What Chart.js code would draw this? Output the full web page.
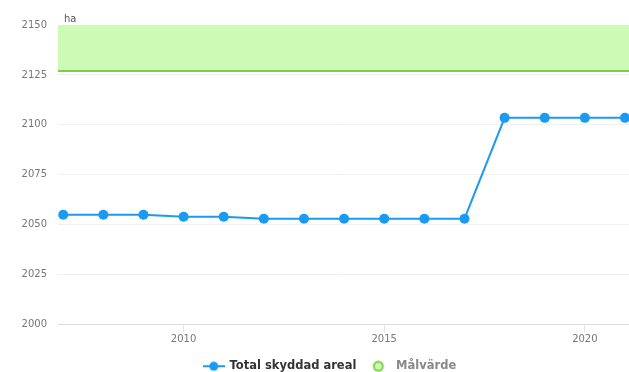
<!DOCTYPE html>
<html>
<head>
<meta charset="utf-8">
<script src="https://cdn.jsdelivr.net/npm/chart.js@4/dist/chart.umd.min.js"></script>
<style>
  html, body { margin: 0; padding: 0; background: #fff; overflow: hidden; }
  #wrap { width: 634px; height: 372px; }
</style>
</head>
<body>
<div id="wrap"><canvas id="chart"></canvas></div>
<script>
// Protected area per year (ha)
const years = [2007, 2008, 2009, 2010, 2011, 2012, 2013, 2014, 2015, 2016, 2017, 2018, 2019, 2020, 2021];
const totalArea = [2055, 2055, 2055, 2054, 2054, 2053, 2053, 2053, 2053, 2053, 2053, 2103.5, 2103.5, 2103.5, 2103.5];
// target band: from target value up to the top of the axis
const targetYears = [2006.87, 2021.1];
const targetValue = [2127, 2127];
const xTicks = [2010, 2015, 2020];
const yTicks = [2000, 2025, 2050, 2075, 2100, 2125, 2150];
const unitLabel = 'ha';

const blue = '#1a9af0';
const greenLine = '#7ccf4a';
const greenFill = '#ccfbb5';

// legend symbol: short line with a dot
function lineDotIcon() {
    const c = document.createElement('canvas');
    c.width = 22; c.height = 10;
    const g = c.getContext('2d');
    g.strokeStyle = blue; g.lineWidth = 2;
    g.beginPath(); g.moveTo(0, 5); g.lineTo(22, 5); g.stroke();
    g.fillStyle = blue;
    g.beginPath(); g.arc(11, 5, 4.5, 0, Math.PI * 2); g.fill();
    return c;
}
// legend symbol: hollow-ish circle, kept towards the left of its box
function circleIcon() {
    const c = document.createElement('canvas');
    c.width = 20; c.height = 12;
    const g = c.getContext('2d');
    g.fillStyle = greenFill; g.strokeStyle = greenLine; g.lineWidth = 2;
    g.beginPath(); g.arc(8, 6, 4.5, 0, Math.PI * 2); g.fill(); g.stroke();
    return c;
}

const unitPlugin = {
    id: 'unitLabel',
    afterLayout(chart) {
        // nudge the legend a bit to the right
        const lg = chart.legend;
        if (lg && !lg._nudged) {
            const draw = lg.draw.bind(lg);
            lg.draw = function () {
                this.ctx.save();
                this.ctx.translate(9, 0);
                draw();
                this.ctx.restore();
            };
            lg._nudged = true;
        }
    },
    afterDraw(chart) {
        const ctx = chart.ctx;
        const area = chart.chartArea;
        ctx.save();
        ctx.font = '10px "DejaVu Sans"';
        ctx.fillStyle = '#555';
        ctx.textBaseline = 'bottom';
        ctx.fillText(unitLabel, area.left + 6, area.top - 1);
        ctx.restore();
    }
};

new Chart(document.getElementById('chart'), {
    type: 'line',
    data: {
        datasets: [
            {
                label: 'Total skyddad areal',
                data: years.map((y, i) => ({ x: y, y: totalArea[i] })),
                borderColor: blue,
                backgroundColor: blue,
                borderWidth: 2,
                pointRadius: 5,
                pointHoverRadius: 5,
                pointBorderWidth: 0,
                tension: 0,
                clip: false,
                order: 0
            },
            {
                label: 'Målvärde',
                data: targetYears.map((y, i) => ({ x: y, y: targetValue[i] })),
                borderColor: greenLine,
                backgroundColor: greenFill,
                borderWidth: 2,
                pointRadius: 0,
                fill: 'end',
                order: 1
            }
        ]
    },
    options: {
        responsive: true,
        maintainAspectRatio: false,
        animation: false,
        layout: { padding: { top: 25, right: 0, left: 8, bottom: -10 } },
        scales: {
            x: {
                type: 'linear',
                min: targetYears[0],
                max: targetYears[1],
                afterBuildTicks: axis => { axis.ticks = xTicks.map(v => ({ value: v })); },
                grid: { drawOnChartArea: false, drawTicks: true, tickLength: 8, color: '#e4e4e4' },
                border: { color: '#dcdcdc' },
                ticks: {
                    color: '#777',
                    font: { family: 'DejaVu Sans', size: 10 },
                    padding: 1,
                    maxRotation: 0,
                    callback: v => String(v)
                }
            },
            y: {
                min: yTicks[0],
                max: yTicks[yTicks.length - 1],
                afterBuildTicks: axis => { axis.ticks = yTicks.map(v => ({ value: v })); },
                afterFit: axis => { axis.width = 50; },
                grid: { color: '#f0f0f0', drawTicks: false },
                border: { display: false },
                ticks: {
                    color: '#777',
                    font: { family: 'DejaVu Sans', size: 10 },
                    padding: 11,
                    callback: v => String(v)
                }
            }
        },
        plugins: {
            tooltip: { enabled: false },
            legend: {
                position: 'bottom',
                labels: {
                    usePointStyle: true,
                    pointStyleWidth: 20,
                    padding: 14,
                    font: { family: 'DejaVu Sans', size: 11.5, weight: 'bold' },
                    generateLabels: chart => chart.data.datasets.map((ds, i) => ({
                        text: ds.label,
                        datasetIndex: i,
                        pointStyle: i === 0 ? lineDotIcon() : circleIcon(),
                        fontColor: i === 0 ? '#333' : '#888',
                        hidden: false,
                        lineWidth: 0
                    }))
                }
            }
        }
    },
    plugins: [unitPlugin]
});
</script>
</body>
</html>
